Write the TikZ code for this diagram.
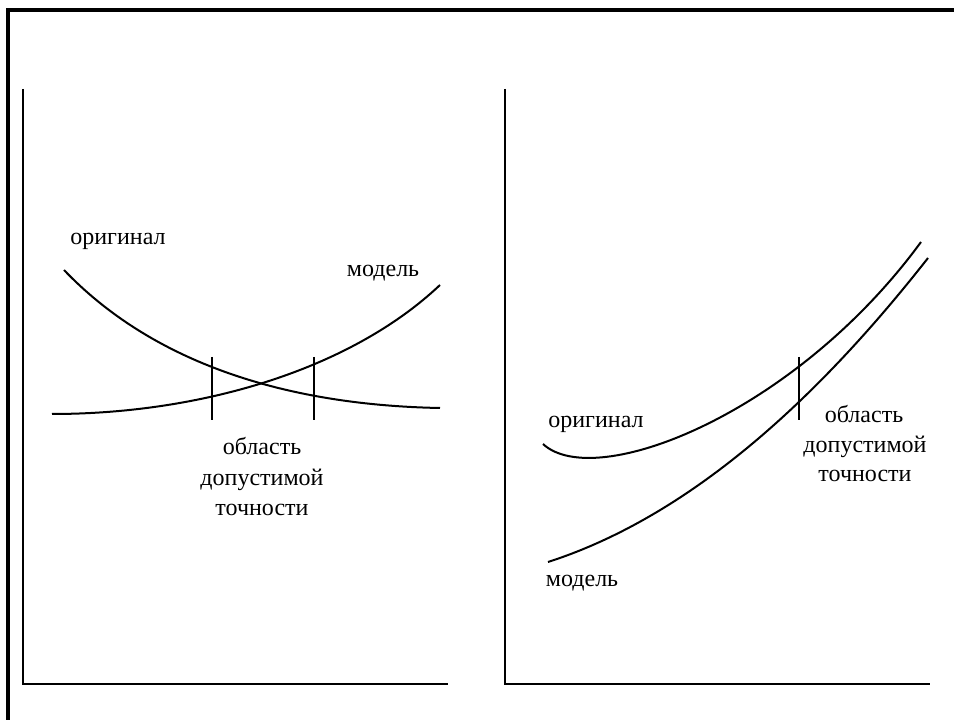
\documentclass[tikz,border=0pt]{standalone}
\usepackage{fontspec}
\setmainfont{Liberation Serif}
\begin{document}
\begin{tikzpicture}[x=0.75pt,y=-0.75pt,
  axis/.style={line width=1.5pt},
  curve/.style={line width=1.5pt},
  frame/.style={line width=2.3pt},
  tick/.style={line width=1.5pt},
  lbl/.style={anchor=base,inner sep=0pt,font=\fontsize{18}{22}\selectfont}]
\useasboundingbox (0,0) rectangle (954,720);
% outer frame (only top and left visible)
\coordinate (fb) at (8,722);
\coordinate (fc) at (8,10);
\coordinate (fr) at (956,10);
\draw[frame] (fb) -- (fc) -- (fr);
% left axes
\coordinate (lo) at (23,684);
\coordinate (ly) at (23,89);
\coordinate (lx) at (448,684);
\draw[axis] (ly) -- (lo) -- (lx);
% right axes
\coordinate (ro) at (505,684);
\coordinate (ry) at (505,89);
\coordinate (rx) at (930,684);
\draw[axis] (ry) -- (ro) -- (rx);
% left curves
\coordinate (lo1) at (64,270);
\coordinate (lo2) at (440,408);
\draw[curve] (lo1) .. controls (150,360) and (280,405) .. (lo2);
\coordinate (lm1) at (52,414);
\coordinate (lm2) at (440,285);
\draw[curve] (lm1) .. controls (200,414) and (350,370) .. (lm2);
% left ticks
\coordinate (t1a) at (212,357);
\coordinate (t1b) at (212,420);
\coordinate (t2a) at (314,357);
\coordinate (t2b) at (314,420);
\draw[tick] (t1a) -- (t1b);
\draw[tick] (t2a) -- (t2b);
% right curves
\coordinate (ro1) at (543,444);
\coordinate (ro2) at (921,242);
\draw[curve] (ro1) .. controls (595,492) and (795,414) .. (ro2);
\coordinate (rm1) at (548,562);
\coordinate (rm2) at (928,258);
\draw[curve] (rm1) .. controls (675,521) and (801,420) .. (rm2);
% right tick
\coordinate (t3a) at (799,357);
\coordinate (t3b) at (799,420);
\draw[tick] (t3a) -- (t3b);
% left labels
\node[lbl] (lorig) at (118,245) {оригинал};
\node[lbl] (lmod) at (383,277) {модель};
\node[lbl] (lr1) at (262,455) {область};
\node[lbl] (lr2) at (262,485) {допустимой};
\node[lbl] (lr3) at (262,515) {точности};
% right labels
\node[lbl] (rorig) at (596,427) {оригинал};
\node[lbl] (rmod) at (582,586) {модель};
\node[lbl] (rr1) at (864,422) {область};
\node[lbl] (rr2) at (865,452) {допустимой};
\node[lbl] (rr3) at (865,482) {точности};
\end{tikzpicture}
\end{document}
